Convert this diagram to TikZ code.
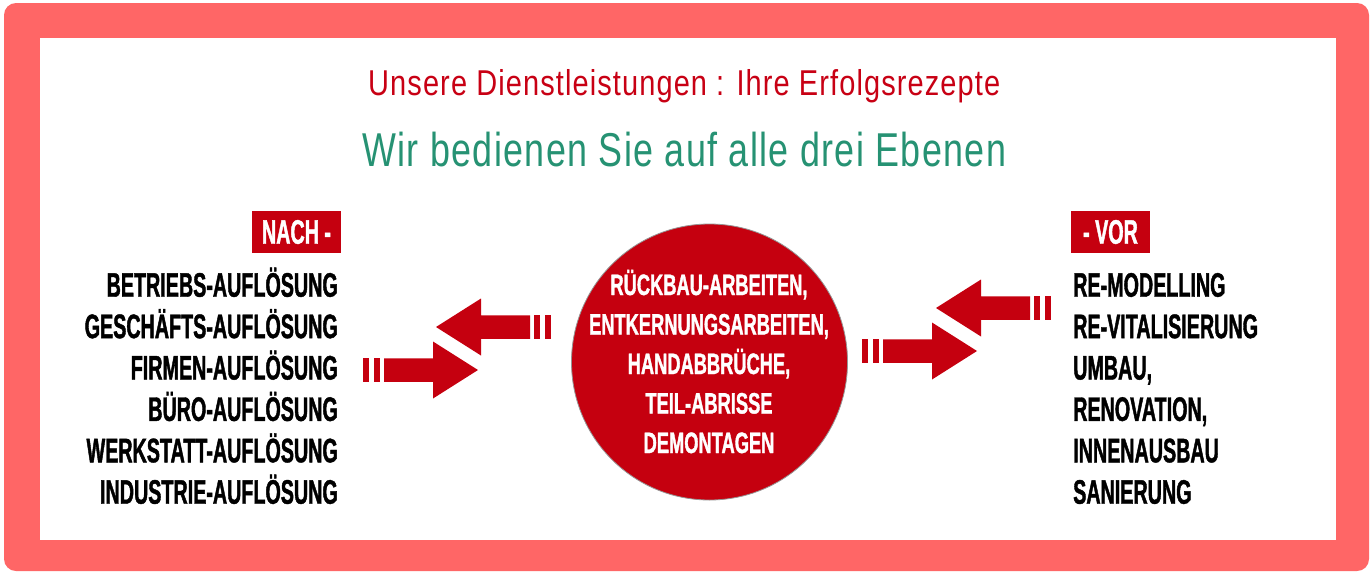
\documentclass[tikz,border=0pt]{standalone}
\usepackage{fontspec}
\usepackage{graphicx}
\setmainfont{Liberation Sans}
\newfontfamily\listfont[FakeStretch=0.58,FakeBold=1.2]{Liberation Sans Bold}
\newfontfamily\circfont[FakeStretch=0.62,FakeBold=1.2]{Liberation Sans Bold}
\newfontfamily\headfont[FakeStretch=0.78,LetterSpace=3]{Liberation Sans}
\definecolor{frame}{RGB}{255,102,102}
\definecolor{boxred}{RGB}{197,0,15}
\definecolor{titlered}{RGB}{200,0,20}
\definecolor{titlegreen}{RGB}{38,146,115}
\definecolor{ringgray}{RGB}{150,150,150}
\tikzset{
  listitem/.style={inner sep=0pt, text=black, font=\listfont\fontsize{34}{40}\selectfont},
  leftitem/.style={listitem, anchor=base east},
  rightitem/.style={listitem, anchor=base west},
  tagbox/.style={fill=boxred, text=white, inner sep=0pt, minimum width=#1, minimum height=42pt, font=\listfont\fontsize{34}{40}\selectfont},
  circline/.style={inner sep=0pt, anchor=base, text=white, font=\circfont\fontsize{29.5}{36}\selectfont},
  core/.style={circle, fill=boxred, draw=ringgray, line width=0.8pt, minimum size=276pt, inner sep=0pt},
  headline/.style={anchor=base west, inner sep=0pt},
  bigarrow/.pic={
    \fill[boxred] (-94,-11.75) -- (-45,-11.75) -- (-45,-28.5) -- (0,0) -- (-45,28.5) -- (-45,11.75) -- (-94,11.75) -- cycle;
    \fill[boxred] (-115,-11.75) rectangle (-109,11.75);
    \fill[boxred] (-104,-11.75) rectangle (-98,11.75);
  }
}
\begin{document}
\begin{tikzpicture}[x=1pt,y=-1pt]
\useasboundingbox (0,0) rectangle (1372,573);
% frame
\fill[frame, rounded corners=12pt] (4,3) rectangle (1369,571);
\fill[white] (40,38) rectangle (1336,540);
% titles
\node[headline, text=titlered] (t1) at (368,95.7)
  {\resizebox{632pt}{\height}{\headfont\fontsize{35.9}{40}\selectfont Unsere Dienstleistungen : Ihre Erfolgsrezepte}};
\node[headline, text=titlegreen] (t2) at (362,166.7)
  {\resizebox{644pt}{\height}{\headfont\fontsize{47.5}{52}\selectfont Wir bedienen Sie auf alle drei Ebenen}};
% tags
\node[tagbox=89pt] (nach) at (296.5,232) {NACH -};
\node[tagbox=79pt] (vor) at (1110.5,232) {- VOR};
% left list
\node[leftitem] (l1) at (338,296.7) {BETRIEBS-AUFLÖSUNG};
\node[leftitem] (l2) at (338,338.1) {GESCHÄFTS-AUFLÖSUNG};
\node[leftitem] (l3) at (338,379.5) {FIRMEN-AUFLÖSUNG};
\node[leftitem] (l4) at (338,420.9) {BÜRO-AUFLÖSUNG};
\node[leftitem] (l5) at (338,462.3) {WERKSTATT-AUFLÖSUNG};
\node[leftitem] (l6) at (338,503.7) {INDUSTRIE-AUFLÖSUNG};
% right list
\node[rightitem] (r1) at (1073,296.7) {RE-MODELLING};
\node[rightitem] (r2) at (1073,338.1) {RE-VITALISIERUNG};
\node[rightitem] (r3) at (1073,379.5) {UMBAU,};
\node[rightitem] (r4) at (1073,420.9) {RENOVATION,};
\node[rightitem] (r5) at (1073,462.3) {INNENAUSBAU};
\node[rightitem] (r6) at (1073,503.7) {SANIERUNG};
% centre circle
\node[core] (c) at (709.5,362) {};
\node[circline] (c1) at (709,295) {RÜCKBAU-ARBEITEN,};
\node[circline] (c2) at (709,334.5) {ENTKERNUNGSARBEITEN,};
\node[circline] (c3) at (709,374) {HANDABBRÜCHE,};
\node[circline] (c4) at (709,413.5) {TEIL-ABRISSE};
\node[circline] (c5) at (709,453) {DEMONTAGEN};
% arrows
\coordinate (aL1) at (436,327);
\coordinate (aL2) at (478,370);
\coordinate (aR1) at (936,308);
\coordinate (aR2) at (977,351);
\pic[xscale=-1] at (aL1) {bigarrow};
\pic at (aL2) {bigarrow};
\pic[xscale=-1] at (aR1) {bigarrow};
\pic at (aR2) {bigarrow};
\end{tikzpicture}
\end{document}
